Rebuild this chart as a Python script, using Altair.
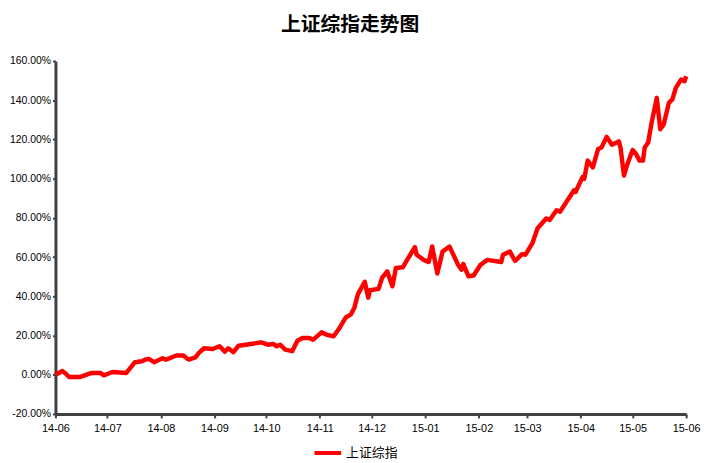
import altair as alt
import pandas as pd

dates = [
    "2014-06-01", "2014-06-05", "2014-06-07", "2014-06-09", "2014-06-15", "2014-06-22",
    "2014-06-27", "2014-06-29", "2014-07-04", "2014-07-12", "2014-07-17", "2014-07-21",
    "2014-07-23", "2014-07-25", "2014-07-28", "2014-08-02", "2014-08-04", "2014-08-10",
    "2014-08-14", "2014-08-17", "2014-08-21", "2014-08-23", "2014-08-26", "2014-08-31",
    "2014-09-04", "2014-09-07", "2014-09-09", "2014-09-12", "2014-09-15", "2014-09-28",
    "2014-10-02", "2014-10-05", "2014-10-07", "2014-10-09", "2014-10-12", "2014-10-16",
    "2014-10-19", "2014-10-22", "2014-10-26", "2014-10-28", "2014-11-02", "2014-11-05",
    "2014-11-09", "2014-11-12", "2014-11-16", "2014-11-19", "2014-11-21", "2014-11-23",
    "2014-11-27", "2014-11-29", "2014-11-30", "2014-12-05", "2014-12-07", "2014-12-10",
    "2014-12-13", "2014-12-15", "2014-12-19", "2014-12-21", "2014-12-26", "2014-12-27",
    "2014-12-31", "2015-01-03", "2015-01-05", "2015-01-08", "2015-01-11", "2015-01-15",
    "2015-01-20", "2015-01-22", "2015-01-23", "2015-01-26", "2015-01-29", "2015-02-02",
    "2015-02-06", "2015-02-14", "2015-02-15", "2015-02-19", "2015-02-21", "2015-02-22",
    "2015-02-26", "2015-02-28", "2015-03-04", "2015-03-07", "2015-03-12", "2015-03-14",
    "2015-03-18", "2015-03-20", "2015-03-28", "2015-03-29", "2015-04-02", "2015-04-03",
    "2015-04-05", "2015-04-08", "2015-04-11", "2015-04-13", "2015-04-16", "2015-04-19",
    "2015-04-23", "2015-04-24", "2015-04-26", "2015-04-28", "2015-05-01", "2015-05-03",
    "2015-05-05", "2015-05-07", "2015-05-08", "2015-05-10", "2015-05-12", "2015-05-15",
    "2015-05-17", "2015-05-19", "2015-05-22", "2015-05-24", "2015-05-26", "2015-05-29",
    "2015-05-31", "2015-06-01",
]

pct = [
    0.0, 1.9, 0.5, -1.2, -1.2, 0.9,
    0.9, -0.3, 1.4, 0.9, 6.4, 6.9,
    7.7, 8.1, 6.4, 8.4, 7.7, 9.8,
    9.8, 7.7, 8.9, 11.1, 13.5, 13.1,
    14.5, 11.8, 13.5, 11.5, 14.8, 16.5,
    15.3, 15.7, 14.5, 15.3, 12.8, 12.0,
    17.3, 18.7, 18.7, 17.8, 21.6, 20.4,
    19.6, 23.3, 29.2, 30.8, 34.2, 41.0,
    47.4, 39.3, 43.1, 43.8, 49.4, 52.7,
    45.1, 54.4, 54.8, 57.8, 65.1, 61.2,
    58.6, 57.5, 65.4, 51.6, 62.8, 65.4,
    56.1, 53.6, 56.5, 50.2, 50.6, 56.1,
    58.6, 57.5, 61.2, 62.8, 59.5, 58.1,
    61.5, 61.2, 67.1, 74.7, 79.7, 78.9,
    83.9, 83.1, 94.0, 93.2, 100.8, 99.9,
    109.2, 105.8, 115.1, 115.9, 121.3, 117.3,
    119.0, 115.9, 101.6, 107.5, 114.6, 112.6,
    109.2, 109.2, 115.9, 118.4, 128.6, 141.2,
    125.2, 127.7, 138.7, 140.4, 146.3, 150.5,
    149.7, 152.2,
]

series_name = "上证综指"
title_text = "上证综指走势图"
y_ticks = [-0.2, 0.0, 0.2, 0.4, 0.6, 0.8, 1.0, 1.2, 1.4, 1.6]
month_ticks = [(2014, m) for m in range(6, 13)] + [(2015, m) for m in range(1, 7)]

df = pd.DataFrame({"date": dates, "pct": pct})
df["value"] = df["pct"] / 100.0
df["series"] = series_name

axis_font = "Liberation Sans"

chart = alt.Chart(df).mark_line(strokeWidth=4.5, interpolate="linear", strokeJoin="round").encode(
    x=alt.X(
        "date:T",
        scale=alt.Scale(
            type="utc",
            domain=[alt.DateTime(year=2014, month=6, date=1, utc=True),
                    alt.DateTime(year=2015, month=6, date=1, utc=True)],
            nice=False,
        ),
        axis=alt.Axis(
            title=None,
            values=[alt.DateTime(year=y, month=m, date=1, utc=True) for y, m in month_ticks],
            labelExpr="utcFormat(datum.value, '%y-%m')",
            labelFont=axis_font,
            labelFontSize=11,
            labelColor="#000000",
            labelPadding=5,
            labelFlush=False,
            labelBound=False,
            tickSize=4,
            tickWidth=2,
            tickColor="#404040",
            domainColor="#404040",
            domainWidth=3,
            grid=False,
            labelOverlap=False,
        ),
    ),
    y=alt.Y(
        "value:Q",
        scale=alt.Scale(domain=[-0.2, 1.6], nice=False, zero=False),
        axis=alt.Axis(
            title=None,
            values=y_ticks,
            labelExpr="replace(format(datum.value, '.2%'), '\u2212', '-')",
            labelFont=axis_font,
            labelFontSize=10.5,
            labelColor="#000000",
            labelPadding=2,
            labelFlush=False,
            tickSize=3,
            tickWidth=2,
            tickColor="#404040",
            domainColor="#404040",
            domainWidth=3,
            grid=False,
        ),
    ),
    color=alt.Color(
        "series:N",
        scale=alt.Scale(domain=[series_name], range=["#ff0000"]),
        legend=alt.Legend(
            title=None,
            orient="none",
            legendX=260,
            legendY=381,
            symbolType="stroke",
            symbolSize=729,
            symbolStrokeWidth=4,
            symbolStrokeColor="#ff0000",
            symbolOpacity=1,
            labelFont="Noto Sans CJK SC",
            labelFontSize=13,
            labelColor="#000000",
            labelOffset=3,
        ),
    ),
).properties(
    width=638,
    height=357,
    padding={"left": 48, "top": 51, "right": 16, "bottom": 47},
    autosize=alt.AutoSizeParams(type="none"),
    title=alt.TitleParams(
        text=title_text,
        font="Noto Sans CJK SC",
        fontSize=20,
        fontWeight="bold",
        color="#000000",
        anchor="middle",
        dx=-21,
        offset=21,
    ),
).configure(background="white").configure_view(stroke=None)

chart.save("out.html", embed_options={"renderer": "svg", "actions": False})
